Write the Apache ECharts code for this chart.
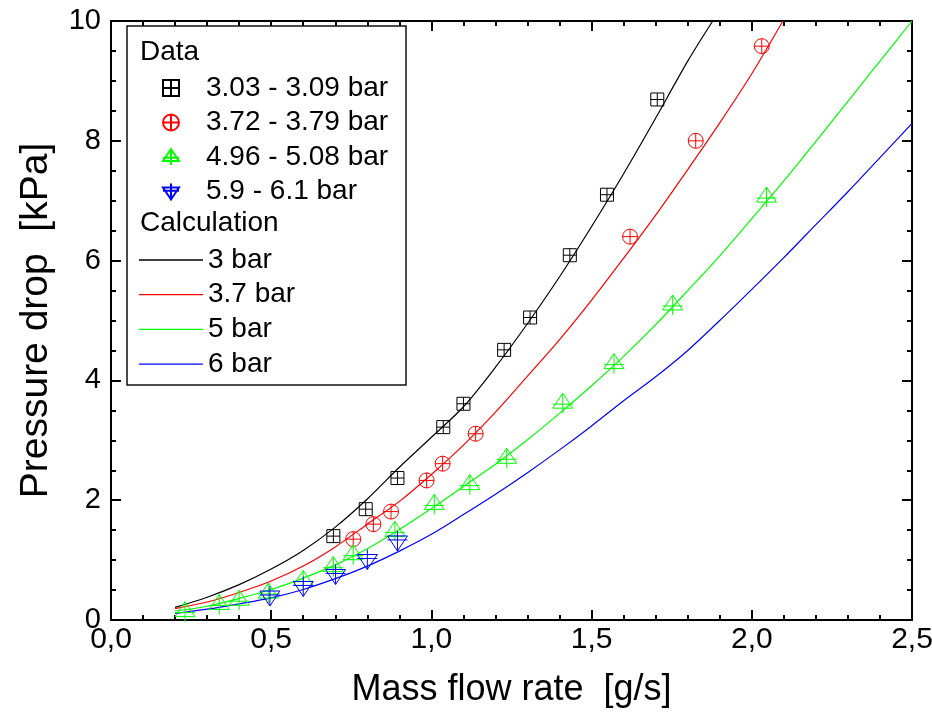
<!DOCTYPE html>
<html>
<head>
<meta charset="utf-8">
<script src="https://cdn.jsdelivr.net/npm/echarts@6/dist/echarts.min.js"></script>
<style>
html,body{margin:0;padding:0;background:#fff;}
#chart{width:932px;height:716px;}
</style>
</head>
<body>
<div id="chart"></div>
<script>
// ---- Measured data (Data) ----
const sq_x = [0.694, 0.795, 0.894, 1.037, 1.100, 1.227, 1.308, 1.432, 1.548, 1.705];
const sq_y = [1.40, 1.85, 2.37, 3.22, 3.61, 4.51, 5.05, 6.09, 7.10, 8.69];

const ci_x = [0.756, 0.819, 0.874, 0.985, 1.035, 1.138, 1.620, 1.825, 2.031];
const ci_y = [1.35, 1.60, 1.81, 2.33, 2.61, 3.11, 6.40, 8.00, 9.58];

const tu_x = [0.231, 0.338, 0.400, 0.491, 0.600, 0.694, 0.756, 0.886, 1.009, 1.120, 1.235, 1.410, 1.570, 1.753, 2.046];
const tu_y = [0.14, 0.26, 0.33, 0.45, 0.66, 0.89, 1.09, 1.48, 1.93, 2.26, 2.70, 3.62, 4.28, 5.26, 7.06];

const td_x = [0.496, 0.600, 0.701, 0.800, 0.894];
const td_y = [0.40, 0.56, 0.76, 1.01, 1.32];

// ---- Calculation curves ----
const c3_x = [0.2, 0.3, 0.4, 0.5, 0.6, 0.7, 0.8, 0.9, 1.0, 1.1, 1.2, 1.3, 1.4, 1.5, 1.6, 1.7, 1.8, 1.878];
const c3_y = [0.21, 0.38, 0.59, 0.85, 1.16, 1.55, 2.02, 2.55, 3.05, 3.56, 4.22, 4.95, 5.73, 6.57, 7.45, 8.38, 9.33, 10.0];

const c37_x = [0.2, 0.3, 0.4, 0.5, 0.6, 0.7, 0.8, 0.9, 1.0, 1.1, 1.2, 1.3, 1.4, 1.5, 1.6, 1.7, 1.8, 1.9, 2.0, 2.097];
const c37_y = [0.19, 0.30, 0.46, 0.65, 0.90, 1.22, 1.60, 1.98, 2.43, 2.92, 3.47, 4.07, 4.68, 5.34, 6.04, 6.76, 7.52, 8.30, 9.12, 10.0];

const c5_x = [0.2, 0.3, 0.4, 0.5, 0.6, 0.7, 0.8, 0.9, 1.0, 1.1, 1.2, 1.3, 1.4, 1.5, 1.6, 1.7, 1.8, 1.9, 2.0, 2.1, 2.2, 2.3, 2.4, 2.5];
const c5_y = [0.15, 0.23, 0.36, 0.51, 0.70, 0.92, 1.19, 1.51, 1.86, 2.23, 2.60, 3.01, 3.45, 3.91, 4.40, 4.93, 5.50, 6.08, 6.70, 7.33, 7.99, 8.66, 9.33, 10.0];

const c6_x = [0.2, 0.3, 0.4, 0.5, 0.6, 0.7, 0.8, 0.9, 1.0, 1.1, 1.2, 1.3, 1.4, 1.5, 1.6, 1.7, 1.8, 1.9, 2.0, 2.1, 2.2, 2.3, 2.4, 2.5];
const c6_y = [0.11, 0.18, 0.27, 0.37, 0.51, 0.69, 0.90, 1.15, 1.43, 1.76, 2.10, 2.46, 2.84, 3.24, 3.66, 4.06, 4.50, 5.00, 5.52, 6.05, 6.60, 7.15, 7.72, 8.29];

const dataNames = ['3.03 - 3.09 bar', '3.72 - 3.79 bar', '4.96 - 5.08 bar', '5.9 - 6.1 bar'];
const calcNames = ['3 bar', '3.7 bar', '5 bar', '6 bar'];
const xTicks = [0, 0.5, 1.0, 1.5, 2.0, 2.5];
const yTicks = [0, 2, 4, 6, 8, 10];

const zip = (xs, ys) => xs.map((x, i) => [x, ys[i]]);

const SYM_SQ = 'path://M0,0 L20,0 L20,20 L0,20 Z M10,0 L10,20 M0,10 L20,10';
const SYM_CI = 'path://M0,10 A10,10 0 1,1 20,10 A10,10 0 1,1 0,10 Z M10,0 L10,20 M0,10 L20,10';
const SYM_TU = 'path://M10,0 L20,15 L0,15 Z M10,0 L10,20 M0,11 L20,11';
const SYM_TD = 'path://M0,5 L20,5 L10,20 Z M10,0 L10,20 M0,9 L20,9';

const colors = ['#000000', '#ff0000', '#00ff00', '#0000ff'];
const FONT = 'Liberation Sans, Arial, sans-serif';

function scatter(name, xs, ys, sym, size, color) {
  return {
    name, type: 'scatter', xAxisIndex: 0, yAxisIndex: 0,
    data: zip(xs, ys), symbol: sym, symbolSize: size,
    itemStyle: { color: 'rgba(0,0,0,0)', borderColor: color, borderWidth: 1, opacity: 1 },
    z: 3
  };
}
function curve(name, xs, ys, color) {
  return {
    name, type: 'line', xAxisIndex: 0, yAxisIndex: 0,
    data: zip(xs, ys), symbol: 'none', showSymbol: false, smooth: 0.3,
    lineStyle: { color, width: 1.2 }, itemStyle: { color },
    z: 2
  };
}

const axisLineStyle = { color: '#000', width: 2 };
function xAx(pos, showLabel) {
  return {
    type: 'value', position: pos, min: 0, max: 2.5, interval: 0.5,
    axisLine: { show: true, onZero: false, lineStyle: axisLineStyle },
    axisTick: { show: true, inside: true, length: 10, lineStyle: { color: '#000', width: 2 } },
    minorTick: { show: true, splitNumber: 5, length: 5, lineStyle: { color: '#000', width: 2 } },
    splitLine: { show: false }, minorSplitLine: { show: false },
    axisLabel: {
      show: showLabel, margin: 5, color: '#000', fontSize: 30, fontFamily: FONT,
      hideOverlap: false,
      formatter: v => (xTicks.indexOf(v) >= 0 ? v.toFixed(1).replace('.', ',') : '')
    },
    name: showLabel ? 'Mass flow rate  [g/s]' : '', nameLocation: 'middle', nameGap: 52,
    nameTextStyle: { color: '#000', fontSize: 36, fontFamily: FONT }
  };
}
function yAx(pos, showLabel) {
  return {
    type: 'value', position: pos, min: 0, max: 10, interval: 2,
    axisLine: { show: true, onZero: false, lineStyle: axisLineStyle },
    axisTick: { show: true, inside: true, length: 10, lineStyle: { color: '#000', width: 2 } },
    minorTick: { show: true, splitNumber: 4, length: 5, lineStyle: { color: '#000', width: 2 } },
    splitLine: { show: false }, minorSplitLine: { show: false },
    axisLabel: {
      show: showLabel, margin: 10, color: '#000', fontSize: 29, fontFamily: FONT,
      formatter: v => (yTicks.indexOf(v) >= 0 ? String(v) : '')
    },
    name: showLabel ? 'Pressure drop  [kPa]' : '', nameLocation: 'middle', nameGap: 55, nameRotate: 90,
    nameTextStyle: { color: '#000', fontSize: 39, fontFamily: FONT }
  };
}

const legendText = { color: '#000', fontSize: 28, fontFamily: FONT, lineHeight: 28 };

const option = {
  animation: false,
  backgroundColor: '#fff',
  grid: { left: 111, right: 20, top: 21, bottom: 96, containLabel: false, outerBoundsMode: 'none' },
  xAxis: [xAx('bottom', true), xAx('top', false)],
  yAxis: [yAx('left', true), yAx('right', false)],
  legend: [
    {
      data: dataNames, orient: 'vertical', left: 162, top: 74, padding: 0,
      itemWidth: 16, itemHeight: 16, itemGap: 6.5, textStyle: Object.assign({ padding: [0, 0, 0, 22] }, legendText),
      symbolKeepAspect: true, selectedMode: false, z: 6
    },
    {
      data: calcNames, orient: 'vertical', left: 139, top: 246, padding: 0,
      icon: 'rect', itemWidth: 64, itemHeight: 1.3, itemGap: 6.7, textStyle: legendText,
      selectedMode: false, z: 6
    }
  ],
  graphic: [
    { type: 'rect', z: 5, shape: { x: 127, y: 26, width: 279, height: 359 },
      style: { fill: '#fff', stroke: '#111', lineWidth: 1.5 } },
    { type: 'text', z: 6, style: { text: 'Data', x: 140, y: 52, verticalAlign: 'middle', font: '28px ' + FONT, fill: '#000' } },
    { type: 'text', z: 6, style: { text: 'Calculation', x: 140, y: 223, verticalAlign: 'middle', font: '28px ' + FONT, fill: '#000' } }
  ],
  series: [
    scatter(dataNames[0], sq_x, sq_y, SYM_SQ, 13, colors[0]),
    scatter(dataNames[1], ci_x, ci_y, SYM_CI, 15, colors[1]),
    scatter(dataNames[2], tu_x, tu_y, SYM_TU, [20, 20], colors[2]),
    scatter(dataNames[3], td_x, td_y, SYM_TD, [20, 20], colors[3]),
    curve(calcNames[0], c3_x, c3_y, colors[0]),
    curve(calcNames[1], c37_x, c37_y, colors[1]),
    curve(calcNames[2], c5_x, c5_y, colors[2]),
    curve(calcNames[3], c6_x, c6_y, colors[3])
  ]
};

const chart = echarts.init(document.getElementById('chart'), null, { renderer: 'canvas' });
chart.setOption(option);
</script>
</body>
</html>
